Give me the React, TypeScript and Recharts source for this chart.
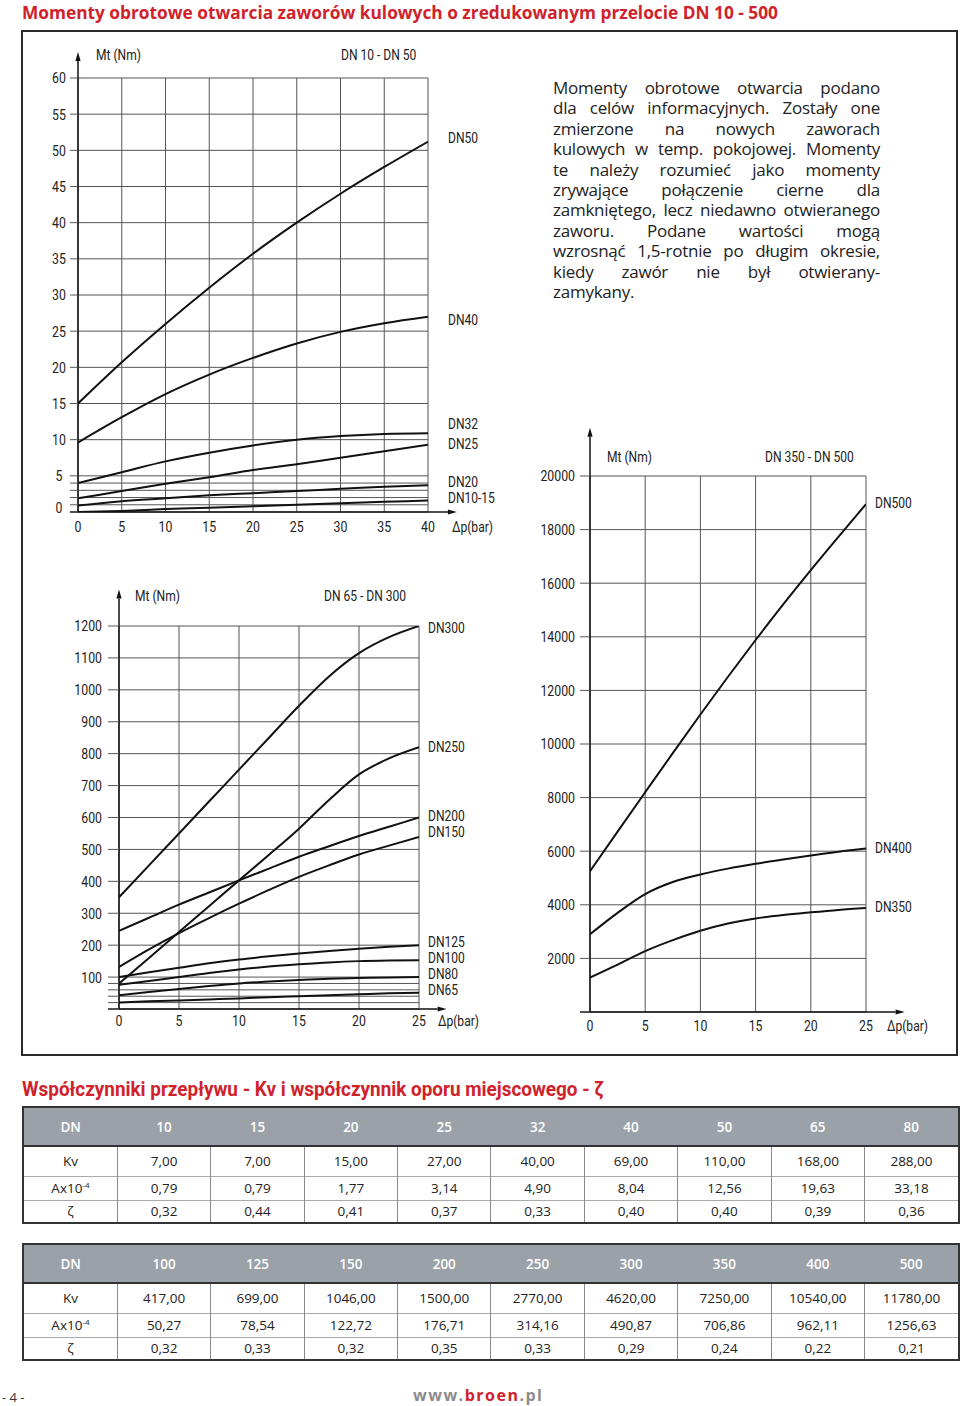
import React from "react";
import { CartesianGrid, Line, LineChart, ReferenceLine, XAxis, YAxis } from "recharts";

const RED = "#cf222b";
const GRID = "#555";
const INK = "#111";
const CHART_FONT = "Roboto, 'Liberation Sans', sans-serif";
const TEXT_FONT = "'Open Sans', 'Noto Sans', sans-serif";
const NARROW = 0.82; // squeeze for the condensed chart lettering

// DN 10 - DN 50, Mt (Nm) vs Δp (bar)
const pressureSmall = [0, 5, 10, 15, 20, 25, 30, 35, 40];
const dn50 = [15, 20.7, 26, 31, 35.7, 40, 44, 47.7, 51.2];
const dn40 = [9.6, 13.1, 16.3, 19, 21.3, 23.3, 24.9, 26.1, 27];
const dn32 = [4, 5.5, 7, 8.2, 9.2, 10, 10.5, 10.8, 10.9];
const dn25 = [1.9, 2.9, 3.9, 4.8, 5.8, 6.6, 7.5, 8.4, 9.3];
const dn20 = [0.9, 1.5, 1.9, 2.3, 2.6, 2.9, 3.2, 3.5, 3.7];
const dn10to15 = [0, 0.15, 0.4, 0.6, 0.8, 1, 1.2, 1.4, 1.6];
const smallYTicks = [0, 1, 2, 3, 4, 5, 10, 15, 20, 25, 30, 35, 40, 45, 50, 55, 60];
const smallYLabels = [0, 5, 10, 15, 20, 25, 30, 35, 40, 45, 50, 55, 60];

// DN 65 - DN 300
const pressureMid = [0, 2.5, 5, 7.5, 10, 12.5, 15, 17.5, 20, 22.5, 25];
const dn300 = [350, 450, 550, 650, 750, 850, 950, 1042, 1115, 1165, 1200];
const dn250 = [80, 160, 241, 322, 403, 483, 565, 655, 735, 785, 820];
const dn200 = [245, 286, 327, 365, 403, 440, 477, 510, 542, 571, 600];
const dn150 = [132, 187, 238, 285, 330, 373, 414, 450, 484, 512, 539];
const dn125 = [100, 115, 129, 143, 155, 165, 174, 182, 189, 195, 200];
const dn100 = [76, 88, 100, 113, 124, 133, 140, 146, 150, 152, 153];
const dn80 = [43, 53, 63, 72, 80, 86, 91, 95, 97, 99, 100];
const dn65 = [20, 24, 27, 30, 33, 37, 40, 43, 46, 49, 51];
const midYTicks = [0, 20, 40, 60, 80, 100, 200, 300, 400, 500, 600, 700, 800, 900, 1000, 1100, 1200];
const midYLabels = [100, 200, 300, 400, 500, 600, 700, 800, 900, 1000, 1100, 1200];

// DN 350 - DN 500
const pressureLarge = [0, 2.5, 5, 7.5, 10, 12.5, 15, 17.5, 20, 22.5, 25];
const dn500 = [5250, 6730, 8200, 9660, 11100, 12510, 13880, 15210, 16490, 17730, 18950];
const dn400 = [2900, 3700, 4400, 4850, 5130, 5350, 5530, 5690, 5840, 5980, 6100];
const dn350 = [1280, 1770, 2270, 2680, 3030, 3300, 3490, 3620, 3720, 3810, 3880];
const largeYTicks = [0, 2000, 4000, 6000, 8000, 10000, 12000, 14000, 16000, 18000, 20000];
const largeYLabels = [2000, 4000, 6000, 8000, 10000, 12000, 14000, 16000, 18000, 20000];

const xTicks40 = [0, 5, 10, 15, 20, 25, 30, 35, 40];
const xTicks25 = [0, 5, 10, 15, 20, 25];

// tables
const dnTop = ["10", "15", "20", "25", "32", "40", "50", "65", "80"];
const kvTop = ["7,00", "7,00", "15,00", "27,00", "40,00", "69,00", "110,00", "168,00", "288,00"];
const areaTop = ["0,79", "0,79", "1,77", "3,14", "4,90", "8,04", "12,56", "19,63", "33,18"];
const zetaTop = ["0,32", "0,44", "0,41", "0,37", "0,33", "0,40", "0,40", "0,39", "0,36"];
const dnBottom = ["100", "125", "150", "200", "250", "300", "350", "400", "500"];
const kvBottom = ["417,00", "699,00", "1046,00", "1500,00", "2770,00", "4620,00", "7250,00", "10540,00", "11780,00"];
const areaBottom = ["50,27", "78,54", "122,72", "176,71", "314,16", "490,87", "706,86", "962,11", "1256,63"];
const zetaBottom = ["0,32", "0,33", "0,32", "0,35", "0,33", "0,29", "0,24", "0,22", "0,21"];

const noteLines = [
  "Momenty obrotowe otwarcia podano",
  "dla celów informacyjnych. Zostały one",
  "zmierzone na nowych zaworach",
  "kulowych w temp. pokojowej. Momenty",
  "te należy rozumieć jako momenty",
  "zrywające połączenie cierne dla",
  "zamkniętego, lecz niedawno otwieranego",
  "zaworu. Podane wartości mogą",
  "wzrosnąć 1,5-rotnie po długim okresie,",
  "kiedy zawór nie był otwierany-",
  "zamykany.",
];

const toRows = (xs: number[], series: Record<string, number[]>) =>
  xs.map((p, i) => {
    const row: Record<string, number> = { p };
    Object.keys(series).forEach((k) => (row[k] = series[k][i]));
    return row;
  });

const AxisArrow = (props: any) => {
  const { x1, y1, x2, y2 } = props;
  const a = Math.atan2(y2 - y1, x2 - x1);
  const len = 9;
  const half = 2.6;
  const bx = x2 - len * Math.cos(a);
  const by = y2 - len * Math.sin(a);
  const px = -Math.sin(a) * half;
  const py = Math.cos(a) * half;
  return (
    <g>
      <line x1={x1} y1={y1} x2={bx} y2={by} stroke={INK} strokeWidth={1.5} />
      <polygon points={`${x2},${y2} ${bx + px},${by + py} ${bx - px},${by - py}`} fill={INK} />
    </g>
  );
};

const tickTextStyle = { fontFamily: CHART_FONT, fontSize: 15, fill: "#222" };

const NarrowText = ({ x, y, anchor, children }: { x: number; y: number; anchor: string; children: React.ReactNode }) => (
  <text
    transform={`translate(${x},${y}) scale(${NARROW},1)`}
    textAnchor={anchor}
    dominantBaseline="central"
    style={tickTextStyle}
  >
    {children}
  </text>
);

type TorqueChartProps = {
  left: number;
  top: number;
  width: number;
  height: number;
  yAxisWidth: number;
  marginTop: number;
  marginRight: number;
  xAxisHeight: number;
  data: Record<string, number>[];
  keys: string[];
  xTicks: number[];
  yTicks: number[];
  yLabels: number[];
  xMax: number;
  yMax: number;
  tickSize: number;
  axisFrom: number;
  axisTo: number;
  axisTop: number;
  yLabelX: number;
  yLabelAnchor: "middle" | "end";
  xLabelGap: number;
};

function TorqueChart(c: TorqueChartProps) {
  const plotBottom = c.height - c.xAxisHeight;
  return (
    <div style={{ position: "absolute", left: c.left, top: c.top, width: c.width, height: c.height }}>
      <LineChart
        width={c.width}
        height={c.height}
        data={c.data}
        margin={{ top: c.marginTop, right: c.marginRight, left: 0, bottom: 0 }}
      >
        <CartesianGrid stroke={GRID} strokeWidth={1} />
        <XAxis
          type="number"
          dataKey="p"
          domain={[0, c.xMax]}
          ticks={c.xTicks}
          interval={0}
          allowDataOverflow
          height={c.xAxisHeight}
          axisLine={false}
          tickLine={false}
          tick={(t: any) => (
            <NarrowText x={t.x} y={plotBottom + c.xLabelGap} anchor="middle">
              {t.payload.value}
            </NarrowText>
          )}
        />
        <YAxis
          type="number"
          domain={[0, c.yMax]}
          ticks={c.yTicks}
          interval={0}
          allowDataOverflow
          width={c.yAxisWidth}
          axisLine={false}
          tickSize={c.tickSize}
          tickLine={{ stroke: GRID, strokeWidth: 1 }}
          tick={(t: any) => {
            const v = t.payload.value;
            if (!c.yLabels.includes(v)) return <g />;
            return (
              <NarrowText x={c.yLabelX} y={t.y + (v === 0 ? -4 : 0)} anchor={c.yLabelAnchor}>
                {v}
              </NarrowText>
            );
          }}
        />
        {c.keys.map((k) => (
          <Line
            key={k}
            dataKey={k}
            type="monotone"
            stroke={INK}
            strokeWidth={2}
            dot={false}
            isAnimationActive={false}
          />
        ))}
        <ReferenceLine
          segment={[
            { x: c.axisFrom, y: 0 },
            { x: c.axisTo, y: 0 },
          ]}
          ifOverflow="visible"
          shape={AxisArrow}
        />
        <ReferenceLine
          segment={[
            { x: 0, y: 0 },
            { x: 0, y: c.axisTop },
          ]}
          ifOverflow="visible"
          shape={AxisArrow}
        />
      </LineChart>
    </div>
  );
}

const Txt = ({
  x,
  y,
  children,
  style,
  squeeze = 0.86,
}: {
  x: number;
  y: number;
  children: React.ReactNode;
  style?: React.CSSProperties;
  squeeze?: number;
}) => (
  <div
    style={{
      position: "absolute",
      left: x,
      top: y,
      transform: `translateY(-50%) scaleX(${squeeze})`,
      transformOrigin: "left center",
      whiteSpace: "nowrap",
      lineHeight: "12px",
      fontFamily: CHART_FONT,
      fontSize: 14,
      color: "#222",
      ...style,
    }}
  >
    {children}
  </div>
);

const chartTexts: [number, number, string][] = [
  [96, 55, "Mt (Nm)"],
  [341, 55, "DN 10 - DN 50"],
  [448, 138, "DN50"],
  [448, 320, "DN40"],
  [448, 424, "DN32"],
  [448, 444, "DN25"],
  [448, 482, "DN20"],
  [448, 498, "DN10-15"],
  [452, 527, "Δp(bar)"],
  [135, 596, "Mt (Nm)"],
  [324, 596, "DN 65 - DN 300"],
  [428, 628, "DN300"],
  [428, 747, "DN250"],
  [428, 816, "DN200"],
  [428, 832, "DN150"],
  [428, 942, "DN125"],
  [428, 958, "DN100"],
  [428, 974, "DN80"],
  [428, 990, "DN65"],
  [438, 1021, "Δp(bar)"],
  [607, 457, "Mt (Nm)"],
  [765, 457, "DN 350 - DN 500"],
  [875, 503, "DN500"],
  [875, 848, "DN400"],
  [875, 907, "DN350"],
  [887, 1026, "Δp(bar)"],
];

function FlowTable({ top, dn, kv, area, zeta }: { top: number; dn: string[]; kv: string[]; area: string[]; zeta: string[] }) {
  const cell: React.CSSProperties = {
    width: 93.4,
    textAlign: "center",
    padding: 0,
    fontFamily: TEXT_FONT,
    fontSize: 13.5,
    color: "#222",
    borderLeft: "1px solid #8a8a8a",
  };
  const rows: [React.ReactNode, string[], number][] = [
    ["Kv", kv, 30],
    [
      <span>
        Ax10<sup style={{ fontSize: 8 }}>-4</sup>
      </span>,
      area,
      24,
    ],
    ["ζ", zeta, 23],
  ];
  return (
    <table
      style={{
        position: "absolute",
        left: 22,
        top,
        width: 934,
        borderCollapse: "collapse",
        tableLayout: "fixed",
        border: "2px solid #333",
      }}
    >
      <tbody>
        <tr style={{ height: 39, background: "#9ba1a9", borderBottom: "2px solid #333" }}>
          {["DN", ...dn].map((h, i) => (
            <td key={i} style={{ ...cell, color: "#fff", fontWeight: 600, borderLeft: "none" }}>
              {h}
            </td>
          ))}
        </tr>
        {rows.map(([name, vals, h], r) => (
          <tr key={r} style={{ height: h, borderTop: r > 0 ? "1px solid #aaa" : undefined }}>
            <td style={{ ...cell, borderLeft: "none" }}>{name}</td>
            {vals.map((v, i) => (
              <td key={i} style={cell}>
                {v}
              </td>
            ))}
          </tr>
        ))}
      </tbody>
    </table>
  );
}

export default function App() {
  return (
    <div style={{ position: "absolute", left: 0, top: 0, width: 960, height: 1406, background: "#fff", overflow: "hidden" }}>
      <Txt x={22} y={13} squeeze={1} style={{ fontFamily: TEXT_FONT, fontWeight: 700, fontSize: 17.3, lineHeight: 1, color: RED }}>
        Momenty obrotowe otwarcia zaworów kulowych o zredukowanym przelocie DN 10 - 500
      </Txt>

      <div
        style={{
          position: "absolute",
          left: 21,
          top: 30,
          width: 937,
          height: 1026,
          boxSizing: "border-box",
          border: "2px solid #2a2a2a",
        }}
      />

      <div
        style={{
          position: "absolute",
          left: 553,
          top: 78,
          width: 327,
          fontFamily: TEXT_FONT,
          fontSize: 17,
          letterSpacing: -0.25,
          lineHeight: "20.4px",
          color: "#222",
        }}
      >
        {noteLines.map((line, i) => (
          <div
            key={i}
            style={{
              textAlign: "justify",
              textAlignLast: i < noteLines.length - 1 ? "justify" : "left",
            }}
          >
            {line}
          </div>
        ))}
      </div>

      <TorqueChart
        left={20}
        top={40}
        width={470}
        height={510}
        yAxisWidth={58}
        marginTop={38}
        marginRight={62}
        xAxisHeight={38}
        data={toRows(pressureSmall, { dn50, dn40, dn32, dn25, dn20, dn10to15 })}
        keys={["dn50", "dn40", "dn32", "dn25", "dn20", "dn10to15"]}
        xTicks={xTicks40}
        yTicks={smallYTicks}
        yLabels={smallYLabels}
        xMax={40}
        yMax={60}
        tickSize={8}
        axisFrom={-0.92}
        axisTo={43.3}
        axisTop={63.6}
        yLabelX={39}
        yLabelAnchor="middle"
        xLabelGap={15}
      />

      <TorqueChart
        left={60}
        top={580}
        width={420}
        height={460}
        yAxisWidth={59}
        marginTop={46}
        marginRight={61}
        xAxisHeight={31}
        data={toRows(pressureMid, { dn300, dn250, dn200, dn150, dn125, dn100, dn80, dn65 })}
        keys={["dn300", "dn250", "dn200", "dn150", "dn125", "dn100", "dn80", "dn65"]}
        xTicks={xTicks25}
        yTicks={midYTicks}
        yLabels={midYLabels}
        xMax={25}
        yMax={1200}
        tickSize={11}
        axisFrom={-0.92}
        axisTo={27.3}
        axisTop={1314}
        yLabelX={42}
        yLabelAnchor="end"
        xLabelGap={12}
      />

      <TorqueChart
        left={530}
        top={420}
        width={420}
        height={630}
        yAxisWidth={60}
        marginTop={56}
        marginRight={84}
        xAxisHeight={38}
        data={toRows(pressureLarge, { dn500, dn400, dn350 })}
        keys={["dn500", "dn400", "dn350"]}
        xTicks={xTicks25}
        yTicks={largeYTicks}
        yLabels={largeYLabels}
        xMax={25}
        yMax={20000}
        tickSize={10}
        axisFrom={-0.9}
        axisTo={28.5}
        axisTop={21800}
        yLabelX={45}
        yLabelAnchor="end"
        xLabelGap={14}
      />

      {chartTexts.map(([x, y, t], i) => (
        <Txt key={i} x={x} y={y}>
          {t}
        </Txt>
      ))}

      <Txt x={22} y={1089} squeeze={0.9} style={{ fontFamily: CHART_FONT, fontWeight: 700, fontSize: 21, lineHeight: 1, color: RED }}>
        Współczynniki przepływu - Kv i współczynnik oporu miejscowego - ζ
      </Txt>

      <FlowTable top={1106} dn={dnTop} kv={kvTop} area={areaTop} zeta={zetaTop} />
      <FlowTable top={1243} dn={dnBottom} kv={kvBottom} area={areaBottom} zeta={zetaBottom} />

      <Txt x={2} y={1397} squeeze={1} style={{ fontFamily: TEXT_FONT, fontSize: 13, lineHeight: 1, color: "#333" }}>
        - 4 -
      </Txt>
      <Txt x={413} y={1395} squeeze={1} style={{ fontFamily: TEXT_FONT, fontSize: 16, fontWeight: 700, lineHeight: 1, letterSpacing: 1.5, color: "#8c8c8c" }}>
        www.<span style={{ color: RED }}>broen</span>.pl
      </Txt>
    </div>
  );
}
